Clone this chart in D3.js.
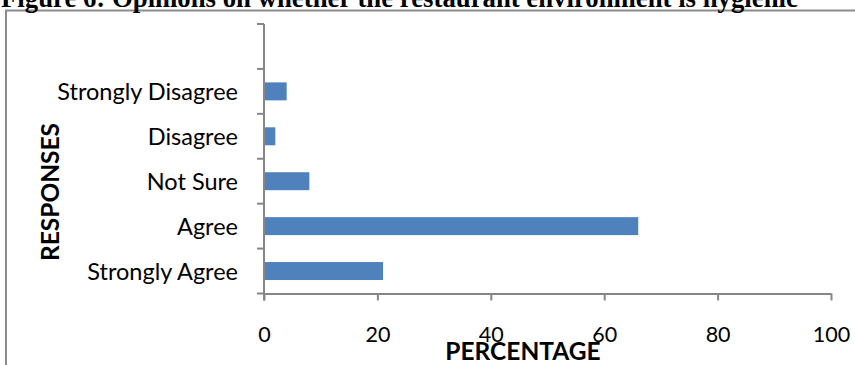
<!DOCTYPE html>
<html>
<head>
<meta charset="utf-8">
<script src="https://cdn.jsdelivr.net/npm/d3@7"></script>
<style>
  html, body { margin: 0; padding: 0; background: #fff; }
  svg { display: block; }
</style>
</head>
<body>
<svg id="chart" width="855" height="365"></svg>
<script>
// Survey responses and the share of respondents (%) giving each one
const responses = ["Strongly Agree", "Agree", "Not Sure", "Disagree", "Strongly Disagree"];
const percentages = [21, 66, 8, 2, 4];
const xTicks = [0, 20, 40, 60, 80, 100];

const titleText = "Figure 6: Opinions on whether the restaurant environment is hygienic";
const xTitle = "PERCENTAGE";
const yTitle = "RESPONSES";

const svg = d3.select("#chart");
const axisColor = "#868686";
const barColor = "#4f81bd";
const labelFont = "Lato, 'Open Sans', sans-serif";

// Chart frame (runs off the right and bottom edges)
svg.append("rect")
  .attr("x", 6).attr("y", 10.5)
  .attr("width", 900).attr("height", 400)
  .attr("fill", "none")
  .attr("stroke", "#8c8c8c")
  .attr("stroke-width", 2);

// Figure caption, partly clipped at the top edge
const title = svg.append("text")
  .attr("x", 1).attr("y", 6.5)
  .attr("font-family", "'Liberation Serif', 'Times New Roman', serif")
  .attr("font-weight", "bold")
  .attr("font-size", 20)
  .attr("fill", "#000")
  .text(titleText);
const tw = title.node().getComputedTextLength();
title.attr("font-size", 20 * 797 / tw);

// Scales: one empty slot is kept above the top category
const yDomain = responses.concat([""]);
const x = d3.scaleLinear().domain([0, 100]).range([264, 831]);
const y = d3.scaleBand()
  .domain(yDomain)
  .range([293.5, 24])
  .paddingInner(0.6)
  .paddingOuter(0.3);

const step = y.step();
const plotTop = 24, plotBottom = 293.5;

// Bars
svg.append("g")
  .selectAll("rect")
  .data(responses.map((r, i) => ({ r, v: percentages[i] })))
  .join("rect")
  .attr("x", x(0))
  .attr("y", d => y(d.r))
  .attr("width", d => x(d.v) - x(0))
  .attr("height", y.bandwidth())
  .attr("fill", barColor);

// Category axis with ticks at band boundaries
const yAxis = svg.append("g");
yAxis.append("line")
  .attr("x1", x(0)).attr("x2", x(0))
  .attr("y1", plotTop).attr("y2", plotBottom + 7)
  .attr("stroke", axisColor).attr("stroke-width", 2);
yAxis.selectAll("line.tick")
  .data(d3.range(yDomain.length + 1))
  .join("line")
  .attr("class", "tick")
  .attr("x1", x(0) - 7).attr("x2", x(0))
  .attr("y1", i => plotBottom - i * step)
  .attr("y2", i => plotBottom - i * step)
  .attr("stroke", axisColor).attr("stroke-width", 2);
yAxis.selectAll("text")
  .data(responses)
  .join("text")
  .attr("x", 238)
  .attr("y", d => y(d) + y.bandwidth() / 2)
  .attr("dy", "0.36em")
  .attr("text-anchor", "end")
  .attr("font-family", labelFont)
  .attr("font-size", 23.5)
  .attr("fill", "#000")
  .text(d => d);

// Value axis
const xAxis = d3.axisBottom(x).tickValues(xTicks).tickSize(7).tickSizeOuter(0);
const gx = svg.append("g")
  .attr("transform", `translate(0,${plotBottom})`)
  .call(xAxis);
gx.select(".domain").attr("stroke", axisColor).attr("stroke-width", 2);
gx.selectAll(".tick line").attr("stroke", axisColor).attr("stroke-width", 2);
gx.selectAll(".tick text")
  .attr("y", 48.5)
  .attr("dy", 0)
  .attr("font-family", labelFont)
  .attr("font-size", 21.5)
  .attr("fill", "#000");

// Axis titles
svg.append("text")
  .attr("x", 523).attr("y", 360)
  .attr("text-anchor", "middle")
  .attr("font-family", labelFont)
  .attr("font-weight", "bold")
  .attr("font-size", 24.5)
  .attr("fill", "#000")
  .text(xTitle);

svg.append("text")
  .attr("transform", "translate(58.5,192) rotate(-90)")
  .attr("text-anchor", "middle")
  .attr("font-family", labelFont)
  .attr("font-weight", "bold")
  .attr("font-size", 24.5)
  .attr("fill", "#000")
  .text(yTitle);
</script>
</body>
</html>
